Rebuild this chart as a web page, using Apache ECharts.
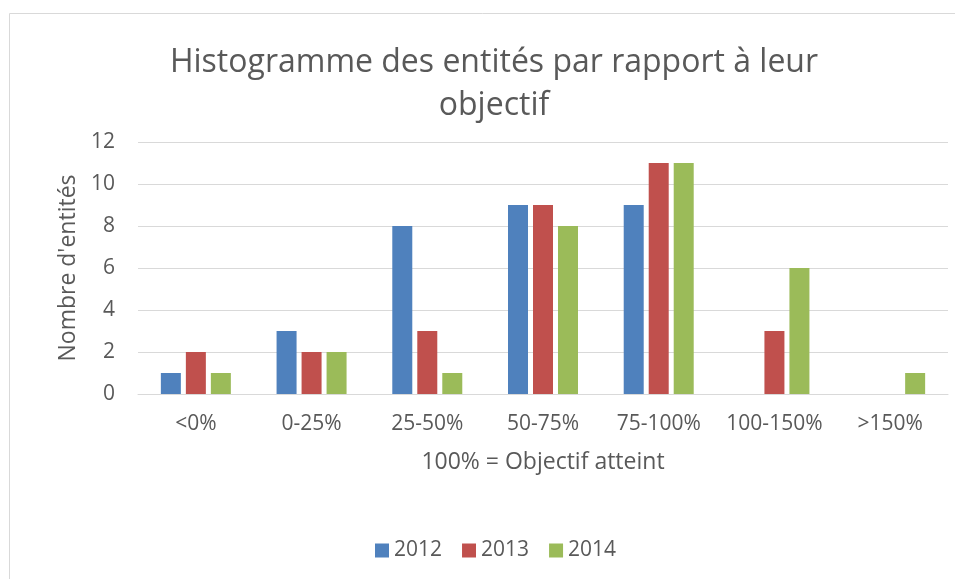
<!DOCTYPE html>
<html><head><meta charset="utf-8">
<script src="https://cdn.jsdelivr.net/npm/echarts@6/dist/echarts.min.js"></script>
<style>html,body{margin:0;padding:0;background:#fff}#c{width:955px;height:579px}</style>
</head><body><div id="c"></div>
<script>
const categories = ['<0%', '0-25%', '25-50%', '50-75%', '75-100%', '100-150%', '>150%'];
const s2012 = [1, 3, 8, 9, 9, 0, 0];
const s2013 = [2, 2, 3, 9, 11, 3, 0];
const s2014 = [1, 2, 1, 8, 11, 6, 1];
const seriesNames = ['2012', '2013', '2014'];
const colors = ['#4F81BD', '#C0504D', '#9BBB59'];
const FONT = '"Open Sans", Calibri, sans-serif';
const chart = echarts.init(document.getElementById('c'));
const dataSets = [s2012, s2013, s2014];
chart.setOption({
  animation: false,
  textStyle: {fontFamily: FONT},
  graphic: [{type: 'rect', shape: {x: 9.5, y: 13.5, width: 1000, height: 700}, style: {fill: 'none', stroke: '#d9d9d9', lineWidth: 1}, silent: true}],
  title: {
    text: 'Histogramme des entités par rapport à leur\nobjectif',
    left: 489, top: 36, textAlign: 'center',
    textStyle: {fontFamily: FONT, fontSize: 32, fontWeight: 'normal', color: '#595959', lineHeight: 43}
  },
  legend: {
    data: seriesNames, bottom: 13, left: 370, itemWidth: 14, itemHeight: 14, itemGap: 20,
    icon: 'rect', textStyle: {fontFamily: FONT, fontSize: 21, color: '#595959'}
  },
  grid: {left: 138, right: 7, top: 142, bottom: 185},
  xAxis: {
    type: 'category', data: categories,
    name: '100% = Objectif atteint', nameLocation: 'middle', nameGap: 57,
    nameTextStyle: {fontFamily: FONT, fontSize: 23, color: '#595959'},
    axisLine: {lineStyle: {color: '#d9d9d9', width: 1}},
    axisTick: {show: false},
    axisLabel: {fontFamily: FONT, fontSize: 21, color: '#595959', margin: 20, interval: 0}
  },
  yAxis: {
    type: 'value', min: 0, max: 12, interval: 2,
    name: "Nombre d'entités", nameLocation: 'middle', nameGap: 57,
    nameTextStyle: {fontFamily: FONT, fontSize: 23, color: '#595959'},
    axisLine: {show: false}, axisTick: {show: false},
    axisLabel: {fontFamily: FONT, fontSize: 21, color: '#595959', margin: 23},
    splitLine: {lineStyle: {color: '#d9d9d9', width: 1}}
  },
  series: seriesNames.map((n, i) => ({
    name: n, type: 'bar', data: dataSets[i], barWidth: 20, barGap: '25%',
    itemStyle: {color: colors[i]}
  }))
});
</script></body></html>
